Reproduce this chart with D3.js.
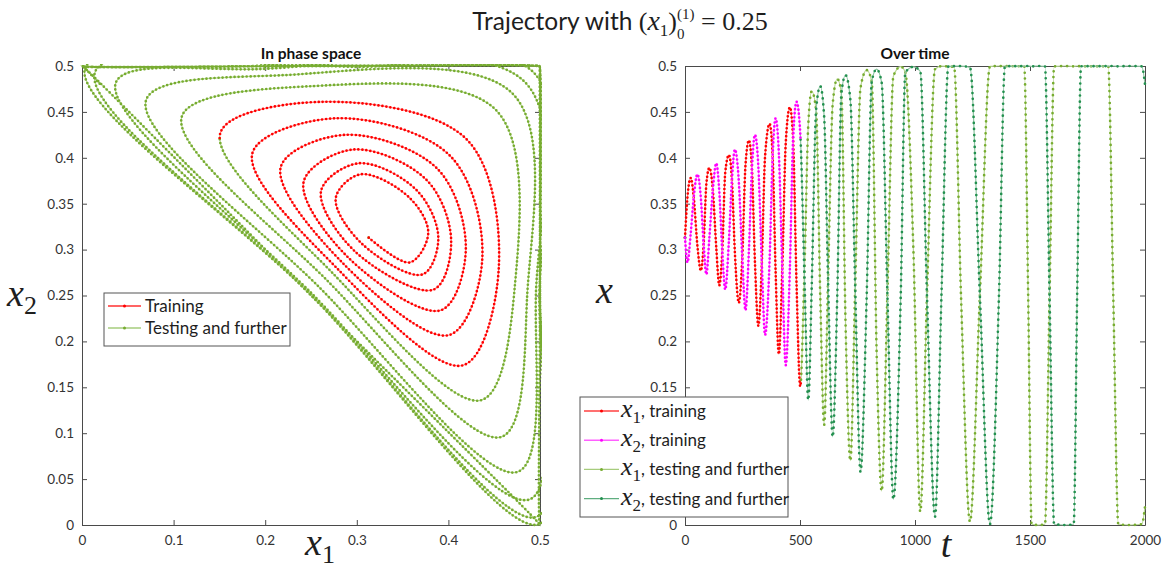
<!DOCTYPE html>
<html><head><meta charset="utf-8">
<script src="https://cdn.jsdelivr.net/npm/d3@7"></script>
<style>body{margin:0;background:#fff}svg{display:block}</style>
</head><body>
<svg id="c" width="1165" height="569"></svg>
<script>
// ---- data (key states of the trajectory) ----
const tKey = [0,11,25,38,54,69,81,93,106,121,136,149,162,175,191,204,217,234,249,263,278,291,304,319,334,348,368,381,394,408,423,438,456,470,485,501,
  519,536,551,570,588,605,622,642,662,680,698,719,740,763,790,812,833,855,880,906,938,958,993,1023,1052,1087,1115,1145,1170,1200,1239,1282,1326,1365,1391,1475,1492,1507,1536,1565,1585,1605,1652,1690,1705,1722,1840,1862,1884,1935,1986,2000];
const x1Key = [0.313,0.358,0.378,0.357,0.304,0.277,0.306,0.372,0.389,0.365,0.302,0.261,0.298,0.384,0.403,0.376,0.296,0.242,0.291,0.392,0.419,0.388,0.287,0.217,0.285,0.401,0.437,0.402,0.276,0.186,0.279,0.416,0.455,0.42,0.262,0.151,
  0.274,0.436,0.4725,0.452,0.25,0.109,0.267,0.458,0.486,0.47,0.22,0.070,0.259,0.476,0.4955,0.483,0.19,0.037,0.2515,0.489,0.4993,0.493,0.30,0.0145,0.2505,0.4965,0.4998,0.4995,0.499,0.25,0.0036,0.2502,0.4995,0.5,0.4998,0.4997,0.25,0.0008,0,0.0008,0.25,0.4996,0.5,0.4996,0.5,0.4997,0.4997,0.25,0.0008,0,0.0008,0.02];
const x2Key = [0.313,0.286,0.318,0.357,0.382,0.356,0.306,0.273,0.313,0.365,0.394,0.364,0.298,0.2565,0.31,0.376,0.409,0.374,0.291,0.234,0.30,0.388,0.425,0.39,0.285,0.207,0.29,0.402,0.443,0.405,0.279,0.174,0.28,0.42,0.461,0.427,
  0.274,0.136,0.26,0.452,0.478,0.445,0.267,0.096,0.25,0.47,0.490,0.463,0.259,0.058,0.25,0.483,0.4965,0.482,0.2515,0.028,0.25,0.493,0.499,0.494,0.2505,0.009,0.25,0.4995,0.4998,0.4999,0.4985,0.2502,0.001,0.25,0.4997,0.4999,0.5,0.4996,0.5,0.4996,0.25,0.0008,0,0.0008,0.25,0.4997,0.4999,0.5,0.4996,0.5,0.4996,0.48];
const trainEnd = 501;
const phaseTicks = [0,0.1,0.2,0.3,0.4,0.5];
const valueTicks = [0,0.05,0.1,0.15,0.2,0.25,0.3,0.35,0.4,0.45,0.5];
const timeTicks = [0,500,1000,1500,2000];
const phaseLegend = ["Training","Testing and further"];
const timeLegend = [["1",", training"],["2",", training"],["1",", testing and further"],["2",", testing and further"]];

// ---- styles ----
const C = {
  red:"#ff0000", redL:"#ff8a8a",
  mag:"#ff00ff", magL:"#ff9cff",
  lg:"#77ac30", lgL:"#b8d794",
  dg:"#23904f", dgL:"#8fc6a3",
  axis:"#4a4a4a", text:"#1e1e1e"
};
const SANS = "Lato, 'Open Sans', sans-serif";
const SERIF = "'Liberation Serif', 'DejaVu Serif', serif";

const rows = tKey.map((t,i)=>({t, x1:x1Key[i], x2:x2Key[i]}));
const splitIdx = tKey.indexOf(trainEnd);

const svg = d3.select("#c");
svg.append("rect").attr("width",1165).attr("height",569).attr("fill","#fff");
const defs = svg.append("defs");

const BL = {x0:82, x1:540, y0:66, y1:525};
const BR = {x0:685, x1:1145, y0:66, y1:525};
const px = d3.scaleLinear().domain([0,0.5]).range([BL.x0,BL.x1]);
const py = d3.scaleLinear().domain([0,0.5]).range([BL.y1,BL.y0]);
const tx = d3.scaleLinear().domain([0,2000]).range([BR.x0,BR.x1]);
const ty = d3.scaleLinear().domain([0,0.5]).range([BR.y1,BR.y0]);
const fmt = d3.format("~g");

function frame(xs, ys, xt, yt, b) {
  const g = svg.append("g");
  g.append("rect").attr("x",b.x0).attr("y",b.y0).attr("width",b.x1-b.x0).attr("height",b.y1-b.y0).attr("fill","#fff");
  g.append("g").attr("transform",`translate(0,${b.y1})`).call(d3.axisBottom(xs).tickValues(xt).tickFormat(fmt).tickSize(-5).tickSizeOuter(0).tickPadding(10));
  g.append("g").attr("transform",`translate(0,${b.y0})`).call(d3.axisTop(xs).tickValues(xt).tickFormat("").tickSize(-5).tickSizeOuter(0));
  g.append("g").attr("class","yl").attr("transform",`translate(${b.x0},0)`).call(d3.axisLeft(ys).tickValues(yt).tickFormat(fmt).tickSize(-5).tickSizeOuter(0).tickPadding(8));
  g.append("g").attr("transform",`translate(${b.x1},0)`).call(d3.axisRight(ys).tickValues(yt).tickFormat("").tickSize(-5).tickSizeOuter(0));
  g.selectAll("path.domain").attr("stroke",C.axis).attr("stroke-width",1);
  g.selectAll(".tick line").attr("stroke",C.axis);
  g.selectAll(".tick text").attr("font-family",SANS).attr("font-size",13.5).attr("fill","#333");
  return g;
}
function clip(id,b){
  defs.append("clipPath").attr("id",id).append("rect").attr("x",b.x0-2).attr("y",b.y0-2).attr("width",b.x1-b.x0+4).attr("height",b.y1-b.y0+4);
}
function dots(from, to, sp, total) {
  const arr = [];
  if (from > 0) arr.push(0, from);
  const n = Math.floor((to - from) / sp);
  for (let i = 0; i <= n; i++) arr.push(0, sp);
  arr.push(0, total + 20);
  return arr.map(v => v.toFixed(2)).join(" ");
}
// one continuous curve through all rows, coloured as training up to row k and testing after
function splitSeries(g, data, k, xf, yf, curve, A, B, spA, spB) {
  const gen = d3.line().x(xf).y(yf).curve(curve);
  const d = gen(data);
  const probe = g.append("path").attr("d", d).attr("fill","none").attr("stroke","none");
  const node = probe.node();
  const total = node.getTotalLength();
  const pre = g.append("path").attr("d", gen(data.slice(0, k+1))).attr("stroke","none").attr("fill","none");
  const est = pre.node().getTotalLength();
  pre.remove();
  const sx = xf(data[k]), sy = yf(data[k]);
  let best = est, bd = Infinity;
  for (let l = Math.max(0, est-60); l <= Math.min(total, est+60); l += 0.25) {
    const p = node.getPointAtLength(l);
    const dd = (p.x-sx)*(p.x-sx) + (p.y-sy)*(p.y-sy);
    if (dd < bd) { bd = dd; best = l; }
  }
  probe.remove();
  const Ls = best;
  g.append("path").attr("d",d).attr("fill","none").attr("stroke",B.colL).attr("stroke-width",1.2)
    .attr("stroke-dasharray", `0 ${Ls} ${total} 0`);
  g.append("path").attr("d",d).attr("fill","none").attr("stroke",A.colL).attr("stroke-width",1.2)
    .attr("stroke-dasharray", `${Ls} ${total + 20}`);
  g.append("path").attr("d",d).attr("fill","none").attr("stroke",B.col).attr("stroke-width",2.7)
    .attr("stroke-linecap","round").attr("stroke-dasharray", dots(Ls + spB, total, spB, total));
  g.append("path").attr("d",d).attr("fill","none").attr("stroke",A.col).attr("stroke-width",2.7)
    .attr("stroke-linecap","round").attr("stroke-dasharray", dots(0, Ls, spA, total));
}

frame(px, py, phaseTicks, valueTicks, BL);
const fr = frame(tx, ty, timeTicks, valueTicks, BR);
clip("cl", BL); clip("cr", BR);

// phase space
const gp = svg.append("g").attr("clip-path","url(#cl)");
splitSeries(gp, rows, splitIdx, d=>px(d.x1), d=>py(d.x2), d3.curveCatmullRom.alpha(0.5),
  {col:C.red, colL:C.redL}, {col:C.lg, colL:C.lgL}, 4, 4);

// over time
const gt = svg.append("g").attr("clip-path","url(#cr)");
splitSeries(gt, rows, splitIdx, d=>tx(d.t), d=>ty(d.x1), d3.curveMonotoneX,
  {col:C.red, colL:C.redL}, {col:C.lg, colL:C.lgL}, 4, 6);
splitSeries(gt, rows, splitIdx, d=>tx(d.t), d=>ty(d.x2), d3.curveMonotoneX,
  {col:C.mag, colL:C.magL}, {col:C.dg, colL:C.dgL}, 4, 6);

// ---- text helpers ----
function rich(parent, x, y, parts, anchor) {
  const g = parent.append("g");
  let cx = 0, lastStart = 0;
  parts.forEach(p => {
    const start = p.stack ? lastStart : cx;
    const t = g.append("text").attr("x",start).attr("y",p.dy||0).text(p.t)
      .attr("font-family",p.f||SANS).attr("font-size",p.s||15).attr("fill",p.c||C.text)
      .attr("font-style",p.i?"italic":"normal").attr("font-weight",p.b?"bold":"normal")
      .style("white-space","pre");
    const w = t.node().getComputedTextLength();
    lastStart = start;
    cx = Math.max(cx, start + w);
  });
  const off = anchor==="middle" ? -cx/2 : (anchor==="end" ? -cx : 0);
  g.attr("transform",`translate(${x+off},${y})`);
  return g;
}

// title
rich(svg, 620, 30, [
  {t:"Trajectory with ", s:24.5},
  {t:"(", f:SERIF, s:26},
  {t:"x", f:SERIF, s:28, i:true},
  {t:"1", f:SERIF, s:17, dy:6},
  {t:")", f:SERIF, s:26},
  {t:"0", f:SERIF, s:15, dy:9},
  {t:"(1)", f:SERIF, s:15, dy:-11, stack:true},
  {t:" = 0.25", f:SERIF, s:26}
], "middle");

rich(svg, 311, 59, [{t:"In phase space", s:15.5, b:true, c:"#111"}], "middle");
rich(svg, 915, 59, [{t:"Over time", s:15.5, b:true, c:"#111"}], "middle");

// axis labels
rich(svg, 320, 555, [{t:"x", f:SERIF, s:38, i:true},{t:"1", f:SERIF, s:26, dy:8}], "middle");
rich(svg, 7, 306, [{t:"x", f:SERIF, s:38, i:true},{t:"2", f:SERIF, s:26, dy:8}], "start");
rich(svg, 596, 303, [{t:"x", f:SERIF, s:38, i:true}], "start");
rich(svg, 946, 557, [{t:"t", f:SERIF, s:38, i:true}], "middle");

// legends
function legLine(g, x0, x1, y, col, colL) {
  g.append("line").attr("x1",x0).attr("x2",x1).attr("y1",y).attr("y2",y).attr("stroke",colL).attr("stroke-width",1.4);
  g.append("circle").attr("cx",(x0+x1)/2).attr("cy",y).attr("r",1.5).attr("fill",col);
}
const lgL = svg.append("g");
lgL.append("rect").attr("x",104).attr("y",293).attr("width",186).attr("height",53).attr("fill","#fff").attr("stroke","#555");
const pCols = [[C.red,"#ff3030"],[C.lg,"#a6cc7c"]];
phaseLegend.forEach((lab,i)=>{
  const y = 306 + i*22;
  legLine(lgL, 108, 141, y, pCols[i][0], pCols[i][1]);
  rich(lgL, 145, y+6, [{t:lab, s:17}], "start");
});

const LB = {x:580, y:397, w:208, h:120};
// tick labels hidden by the legend box are not shown
fr.selectAll(".yl .tick").filter(function(){
  const m = /translate\(0,([\d.]+)\)/.exec(this.getAttribute("transform"));
  const yy = m ? +m[1] : 0;
  return yy > LB.y && yy < LB.y + LB.h;
}).select("text").remove();

const lgR = svg.append("g");
lgR.append("rect").attr("x",LB.x).attr("y",LB.y).attr("width",LB.w).attr("height",LB.h).attr("fill","#fff").attr("stroke","#555");
const tCols = [[C.red,"#ff4040"],[C.mag,"#ff60ff"],[C.lg,"#a6cc7c"],[C.dg,"#5fae80"]];
timeLegend.forEach((e,i)=>{
  const y = 411 + i*29.2;
  legLine(lgR, 584, 619, y, tCols[i][0], tCols[i][1]);
  rich(lgR, 621, y+6, [{t:"x", f:SERIF, s:26, i:true},{t:e[0], f:SERIF, s:17, dy:6},{t:e[1], s:17}], "start");
});
</script>
</body></html>
